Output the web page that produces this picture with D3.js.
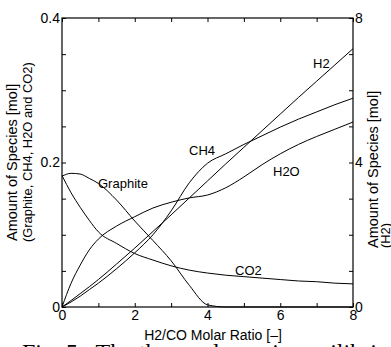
<!DOCTYPE html>
<html>
<head>
<meta charset="utf-8">
<script src="https://cdn.jsdelivr.net/npm/d3@7"></script>
<style>
  html, body { margin: 0; padding: 0; background: #fff; }
  svg { display: block; }
  text { font-family: Arial, "Liberation Sans", sans-serif; fill: #000; }
</style>
</head>
<body>
<script>
// ---- data ----
const ratio    = [0, 0.25, 0.5, 0.75, 1, 1.5, 2, 2.5, 3, 3.5, 4, 4.5, 5, 5.5, 6, 6.5, 7, 7.5, 8];
const graphite = [0.181, 0.185, 0.184, 0.178, 0.171, 0.148, 0.119, 0.092, 0.064, 0.030, 0.003, 0, 0, 0, 0, 0, 0, 0, 0];
const co2      = [0.182, 0.158, 0.138, 0.120, 0.104, 0.088, 0.074, 0.065, 0.057, 0.051, 0.047, 0.044, 0.042, 0.040, 0.038, 0.036, 0.035, 0.033, 0.032];
const h2o      = [0, 0.033, 0.058, 0.079, 0.094, 0.112, 0.125, 0.137, 0.145, 0.151, 0.155, 0.165, 0.180, 0.197, 0.212, 0.225, 0.236, 0.246, 0.256];
const ch4      = [0, 0.007, 0.015, 0.024, 0.033, 0.053, 0.075, 0.100, 0.133, 0.172, 0.199, 0.212, 0.225, 0.237, 0.249, 0.260, 0.270, 0.280, 0.289];
const h2       = [0, 0.18, 0.37, 0.56, 0.76, 1.19, 1.63, 2.09, 2.55, 3.02, 3.49, 3.96, 4.42, 4.88, 5.34, 5.80, 6.25, 6.70, 7.15];

const xTickVals      = [0, 2, 4, 6, 8];
const xMinorVals     = [0, 1, 2, 3, 4, 5, 6, 7, 8];
const yLeftTickVals  = [0, 0.2, 0.4];
const yLeftTickText  = ["0", "0.2", "0.4"];
const yLeftMinorVals = [0, 0.05, 0.1, 0.15, 0.2, 0.25, 0.3, 0.35, 0.4];
const yRightTickVals = [0, 4, 8];
const yRightMinorVals= [0, 1, 2, 3, 4, 5, 6, 7, 8];

const W = 391, H = 347;
const L = 62, T = 18, R = 353, B = 307;

const svg = d3.select("body").append("svg").attr("width", W).attr("height", H);

const x  = d3.scaleLinear().domain([0, 8]).range([L, R]);
const yl = d3.scaleLinear().domain([0, 0.4]).range([B, T]);
const yr = d3.scaleLinear().domain([0, 8]).range([B, T]);

const fs = 14;

// inward minor ticks (no labels)
function minor(axis, vals, tr) {
  const g = svg.append("g").attr("transform", tr)
    .call(axis.tickValues(vals).tickSizeInner(-4).tickSizeOuter(0).tickFormat(""));
  g.select(".domain").remove();
  g.selectAll("line").attr("stroke", "#000").attr("stroke-width", 1);
  return g;
}
minor(d3.axisBottom(x), xMinorVals, `translate(0,${B})`);
minor(d3.axisTop(x), xMinorVals, `translate(0,${T})`);
minor(d3.axisLeft(yl), yLeftMinorVals, `translate(${L},0)`);
minor(d3.axisRight(yr), yRightMinorVals, `translate(${R},0)`);

// labels
const gx = svg.append("g").attr("transform", `translate(0,${B})`)
  .call(d3.axisBottom(x).tickValues(xTickVals).tickSize(0).tickPadding(3).tickFormat(d3.format("d")));
gx.select(".domain").remove();
gx.selectAll("text").attr("font-size", fs).attr("font-family", "Arial, 'Liberation Sans', sans-serif");

const gyl = svg.append("g").attr("transform", `translate(${L},0)`)
  .call(d3.axisLeft(yl).tickValues(yLeftTickVals).tickSize(0).tickPadding(2)
    .tickFormat((d, i) => yLeftTickText[i]));
gyl.select(".domain").remove();
gyl.selectAll("text").attr("font-size", fs).attr("font-family", "Arial, 'Liberation Sans', sans-serif");

const gyr = svg.append("g").attr("transform", `translate(${R},0)`)
  .call(d3.axisRight(yr).tickValues(yRightTickVals).tickSize(0).tickPadding(2).tickFormat(d3.format("d")));
gyr.select(".domain").remove();
gyr.selectAll("text").attr("font-size", fs).attr("font-family", "Arial, 'Liberation Sans', sans-serif");

// frame
svg.append("rect").attr("x", L).attr("y", T).attr("width", R - L).attr("height", B - T)
  .attr("fill", "none").attr("stroke", "#000").attr("stroke-width", 1.2);

// curves
const mk = (vals, ys) => d3.line().curve(d3.curveMonotoneX)
  .x((d, i) => x(ratio[i])).y(d => ys(d))(vals);

[[graphite, yl], [co2, yl], [h2o, yl], [ch4, yl], [h2, yr]].forEach(([v, s]) => {
  svg.append("path").attr("d", mk(v, s)).attr("fill", "none")
    .attr("stroke", "#000").attr("stroke-width", 1);
});

// series labels
const lab = [["H2", 313, 68], ["CH4", 189, 155], ["H2O", 273, 176], ["Graphite", 98, 188], ["CO2", 235, 275]];
lab.forEach(([t, px, py]) => {
  svg.append("text").attr("x", px).attr("y", py).attr("font-size", 13).text(t);
});

// axis titles
svg.append("text").attr("x", 213).attr("y", 340).attr("text-anchor", "middle")
  .attr("font-size", fs).text("H2/CO Molar Ratio [–]");

svg.append("text").attr("transform", "translate(17,241) rotate(-90)")
  .attr("font-size", 14.5).text("Amount of Species [mol]");
svg.append("text").attr("transform", "translate(32,242) rotate(-90)")
  .attr("font-size", 12.9).text("(Graphite, CH4, H2O and CO2)");

svg.append("text").attr("transform", "translate(378,248) rotate(-90)")
  .attr("font-size", 14.5).text("Amount of Species [mol]");
svg.append("text").attr("transform", "translate(390,248) rotate(-90)")
  .attr("font-size", 12.9).text("(H2)");

// cropped caption at the bottom
svg.append("text").attr("x", 22).attr("y", 360)
  .style("font-family", "'Liberation Serif', 'Times New Roman', serif")
  .style("white-space", "pre")
  .attr("font-size", 24).text("Fig. 5   The thermodynamic equilibrium");
</script>
</body>
</html>
